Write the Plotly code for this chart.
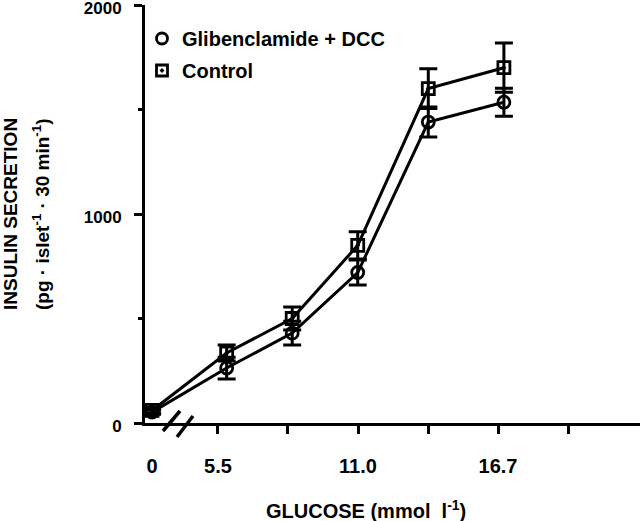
import plotly.graph_objects as go

# ---- data ----
glucose = [0, 5.9, 8.5, 11.1, 13.9, 16.9]          # mmol/l
control = [60, 335, 500, 850, 1600, 1700]           # pg/islet/30 min
control_err = [12, 38, 55, 65, 95, 118]
gliben = [52, 263, 430, 720, 1440, 1535]
gliben_err = [10, 52, 57, 60, 72, 67]

series_names = ["Glibenclamide + DCC", "Control"]

x_tick_vals = [5.556, 8.333, 11.111, 13.889, 16.667, 19.444]
x_tick_text = ["5.5", "", "11.0", "", "16.7", ""]
zero_label = "0"
y_tick_vals = [0, 1000, 2000]
y_tick_text = ["0", "1000", "2000"]
y_minor_vals = [500, 1500]

# broken axis: the 0 mmol/l point is drawn just after the y axis
X_RANGE = [2.66, 22.3]
ZERO_POS = 2.94


def broken(vals):
    return [ZERO_POS if v == 0 else v for v in vals]


FONT = "Liberation Sans, Arial, Helvetica, sans-serif"
BLACK = "#000000"
SYMBOLS = ["circle-open", "square-open-dot"]

fig = go.Figure()

for name, vals, errs, sym in [(series_names[0], gliben, gliben_err, SYMBOLS[0]),
                              (series_names[1], control, control_err, SYMBOLS[1])]:
    fig.add_trace(go.Scatter(
        x=broken(glucose), y=vals, name=name, showlegend=False,
        mode="lines+markers",
        line=dict(color=BLACK, width=3),
        marker=dict(symbol=sym, size=12, color=BLACK, line=dict(width=2.8, color=BLACK)),
        error_y=dict(type="data", array=errs, visible=True, color=BLACK, thickness=3, width=9),
    ))

# legend entries (markers only, as in the reference)
for i, (name, sym) in enumerate(zip(series_names, SYMBOLS)):
    fig.add_trace(go.Scatter(
        x=[None], y=[None], name=name, mode="markers", legendgroup=f"g{i}",
        marker=dict(symbol=sym, size=11, color=BLACK, line=dict(width=2.8, color=BLACK)),
    ))

fig.update_layout(
    width=640, height=521,
    margin=dict(l=145, r=0, t=5, b=98, autoexpand=False),
    paper_bgcolor="white", plot_bgcolor="white",
    font=dict(family=FONT, color=BLACK, size=20, weight="bold"),
    showlegend=True,
    legend=dict(
        xref="container", yref="container",
        x=142 / 640, y=1 - 19 / 521, xanchor="left", yanchor="top",
        font=dict(family=FONT, size=20, color=BLACK, weight="bold"),
        bgcolor="rgba(0,0,0,0)", tracegroupgap=3,
    ),
    xaxis=dict(
        range=X_RANGE, showgrid=False, zeroline=False,
        showline=True, linewidth=3, linecolor=BLACK,
        ticks="outside", ticklen=8, tickwidth=3, tickcolor=BLACK,
        tickvals=x_tick_vals, ticktext=x_tick_text,
        tickfont=dict(family=FONT, size=20, color=BLACK, weight="bold"),
        ticklabelstandoff=15,
    ),
    xaxis2=dict(
        range=X_RANGE, overlaying="x", anchor="y", side="bottom",
        showgrid=False, zeroline=False, showline=False, ticks="",
        tickvals=[ZERO_POS], ticktext=[zero_label],
        tickfont=dict(family=FONT, size=20, color=BLACK, weight="bold"),
        ticklabelstandoff=29,
    ),
    yaxis=dict(
        range=[0, 2000], showgrid=False, zeroline=False,
        showline=True, linewidth=3, linecolor=BLACK,
        ticks="outside", ticklen=8, tickwidth=3, tickcolor=BLACK,
        tickvals=y_tick_vals, ticktext=y_tick_text,
        minor=dict(tickvals=y_minor_vals, ticks="outside", ticklen=4, tickwidth=3, tickcolor=BLACK),
        tickfont=dict(family=FONT, size=17, color=BLACK, weight="bold"),
        ticklabelstandoff=9, ticklabeloverflow="allow", ticklabelshift=3,
    ),
)

# invisible trace so the second x axis is drawn
fig.add_trace(go.Scatter(x=[ZERO_POS], y=[0], xaxis="x2", mode="markers",
                         marker=dict(opacity=0), showlegend=False, hoverinfo="skip"))

# axis break marks
for (x0, y0, x1, y1) in [(163, 431, 180, 411), (177, 437, 193, 416)]:
    fig.add_shape(type="line", xref="paper", yref="paper",
                  x0=(x0 - 145) / 495, y0=(423 - y0) / 418,
                  x1=(x1 - 145) / 495, y1=(423 - y1) / 418,
                  line=dict(color=BLACK, width=3.5))

# axis titles
fig.add_annotation(text="GLUCOSE (mmol  l<sup>-1</sup>)", xref="paper", yref="paper",
                   x=(366 - 145) / 495, y=(423 - 510) / 418, showarrow=False,
                   xanchor="center", yanchor="middle",
                   font=dict(family=FONT, size=20, color=BLACK, weight="bold"))
fig.add_annotation(text="INSULIN SECRETION", xref="paper", yref="paper",
                   x=(10 - 145) / 495, y=0.5, textangle=-90, showarrow=False,
                   xanchor="center", yanchor="middle",
                   font=dict(family=FONT, size=19, color=BLACK, weight="bold"))
fig.add_annotation(text="(pg · islet<sup>-1</sup> · 30 min<sup>-1</sup>)", xref="paper", yref="paper",
                   x=(41 - 145) / 495, y=0.5, textangle=-90, showarrow=False,
                   xanchor="center", yanchor="middle",
                   font=dict(family=FONT, size=19, color=BLACK, weight="bold"))

fig.write_html("out.html", config={"displayModeBar": False},
               post_script="document.body.style.margin='0';document.body.style.padding='0';")
